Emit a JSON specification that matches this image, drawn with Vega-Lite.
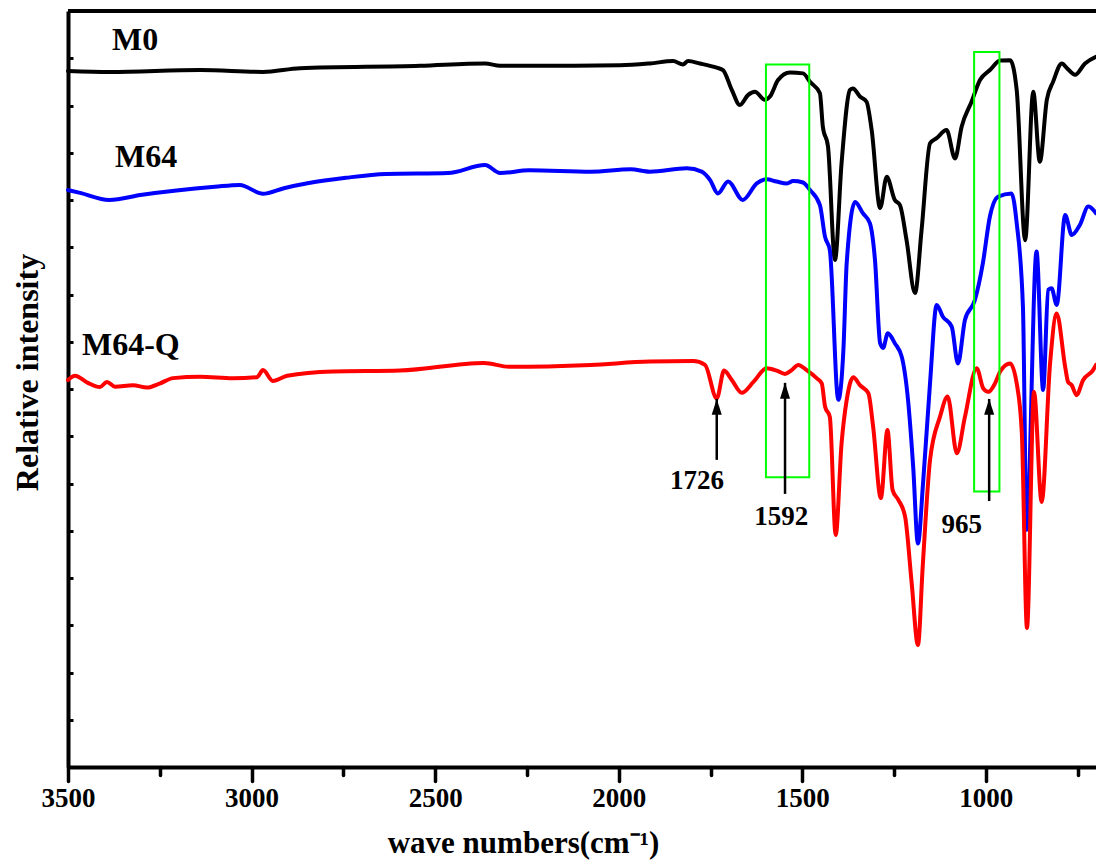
{
  "$schema": "https://vega.github.io/schema/vega-lite/v6.json",
  "width": 1028,
  "height": 756,
  "autosize": {"type": "none"},
  "padding": {"left": 68, "top": 11, "right": 0, "bottom": 96},
  "background": "white",
  "config": {"view": {"stroke": null}, "font": "Liberation Serif"},
  "datasets": {
    "spectra": [
      {"s":"M0","wn":3500,"v":14.73},{"s":"M0","wn":3386,"v":14.71},{"s":"M0","wn":3140,"v":14.75},{"s":"M0","wn":2969,"v":14.71},{"s":"M0","wn":2868,"v":14.79},{"s":"M0","wn":2541,"v":14.84},{"s":"M0","wn":2364,"v":14.89},{"s":"M0","wn":2323,"v":14.84},{"s":"M0","wn":2160,"v":14.84},{"s":"M0","wn":1996,"v":14.85},{"s":"M0","wn":1915,"v":14.89},{"s":"M0","wn":1852,"v":14.94},{"s":"M0","wn":1825,"v":14.87},{"s":"M0","wn":1811,"v":14.94},{"s":"M0","wn":1779,"v":14.89},{"s":"M0","wn":1733,"v":14.80},{"s":"M0","wn":1716,"v":14.75},{"s":"M0","wn":1692,"v":14.33},{"s":"M0","wn":1670,"v":14.01},{"s":"M0","wn":1648,"v":14.22},{"s":"M0","wn":1629,"v":14.29},{"s":"M0","wn":1602,"v":14.12},{"s":"M0","wn":1588,"v":14.19},{"s":"M0","wn":1566,"v":14.54},{"s":"M0","wn":1534,"v":14.70},{"s":"M0","wn":1498,"v":14.68},{"s":"M0","wn":1479,"v":14.50},{"s":"M0","wn":1452,"v":14.26},{"s":"M0","wn":1444,"v":13.55},{"s":"M0","wn":1430,"v":13.13},{"s":"M0","wn":1411,"v":10.73},{"s":"M0","wn":1393,"v":12.78},{"s":"M0","wn":1370,"v":14.33},{"s":"M0","wn":1362,"v":14.36},{"s":"M0","wn":1343,"v":14.19},{"s":"M0","wn":1325,"v":14.08},{"s":"M0","wn":1311,"v":13.48},{"s":"M0","wn":1288,"v":11.83},{"s":"M0","wn":1270,"v":12.49},{"s":"M0","wn":1248,"v":12.00},{"s":"M0","wn":1234,"v":11.89},{"s":"M0","wn":1216,"v":11.15},{"s":"M0","wn":1193,"v":10.03},{"s":"M0","wn":1175,"v":11.37},{"s":"M0","wn":1152,"v":13.20},{"s":"M0","wn":1134,"v":13.31},{"s":"M0","wn":1107,"v":13.48},{"s":"M0","wn":1084,"v":12.88},{"s":"M0","wn":1066,"v":13.55},{"s":"M0","wn":1039,"v":14.08},{"s":"M0","wn":1016,"v":14.54},{"s":"M0","wn":989,"v":14.75},{"s":"M0","wn":961,"v":14.95},{"s":"M0","wn":934,"v":14.96},{"s":"M0","wn":916,"v":14.33},{"s":"M0","wn":893,"v":11.15},{"s":"M0","wn":871,"v":14.29},{"s":"M0","wn":853,"v":12.81},{"s":"M0","wn":834,"v":14.12},{"s":"M0","wn":817,"v":14.50},{"s":"M0","wn":793,"v":14.89},{"s":"M0","wn":779,"v":14.79},{"s":"M0","wn":757,"v":14.65},{"s":"M0","wn":730,"v":14.89},{"s":"M0","wn":700,"v":15.03},
      {"s":"M64","wn":3500,"v":12.21},{"s":"M64","wn":3467,"v":12.15},{"s":"M64","wn":3388,"v":12.00},{"s":"M64","wn":3298,"v":12.11},{"s":"M64","wn":3100,"v":12.28},{"s":"M64","wn":3032,"v":12.32},{"s":"M64","wn":2969,"v":12.13},{"s":"M64","wn":2912,"v":12.25},{"s":"M64","wn":2844,"v":12.36},{"s":"M64","wn":2743,"v":12.47},{"s":"M64","wn":2634,"v":12.55},{"s":"M64","wn":2465,"v":12.57},{"s":"M64","wn":2364,"v":12.74},{"s":"M64","wn":2323,"v":12.57},{"s":"M64","wn":2244,"v":12.63},{"s":"M64","wn":2076,"v":12.60},{"s":"M64","wn":1967,"v":12.65},{"s":"M64","wn":1915,"v":12.60},{"s":"M64","wn":1815,"v":12.67},{"s":"M64","wn":1774,"v":12.60},{"s":"M64","wn":1751,"v":12.42},{"s":"M64","wn":1730,"v":12.14},{"s":"M64","wn":1702,"v":12.39},{"s":"M64","wn":1662,"v":12.00},{"s":"M64","wn":1624,"v":12.35},{"s":"M64","wn":1597,"v":12.44},{"s":"M64","wn":1570,"v":12.39},{"s":"M64","wn":1542,"v":12.35},{"s":"M64","wn":1525,"v":12.40},{"s":"M64","wn":1498,"v":12.37},{"s":"M64","wn":1479,"v":12.21},{"s":"M64","wn":1452,"v":11.89},{"s":"M64","wn":1438,"v":11.22},{"s":"M64","wn":1425,"v":10.94},{"s":"M64","wn":1402,"v":7.77},{"s":"M64","wn":1388,"v":8.83},{"s":"M64","wn":1379,"v":10.67},{"s":"M64","wn":1356,"v":11.96},{"s":"M64","wn":1335,"v":11.72},{"s":"M64","wn":1316,"v":11.51},{"s":"M64","wn":1302,"v":10.73},{"s":"M64","wn":1288,"v":8.97},{"s":"M64","wn":1280,"v":8.87},{"s":"M64","wn":1267,"v":9.18},{"s":"M64","wn":1248,"v":8.97},{"s":"M64","wn":1229,"v":8.68},{"s":"M64","wn":1212,"v":7.77},{"s":"M64","wn":1198,"v":6.36},{"s":"M64","wn":1185,"v":4.73},{"s":"M64","wn":1171,"v":6.01},{"s":"M64","wn":1152,"v":8.13},{"s":"M64","wn":1134,"v":9.78},{"s":"M64","wn":1117,"v":9.53},{"s":"M64","wn":1093,"v":9.32},{"s":"M64","wn":1076,"v":8.54},{"s":"M64","wn":1057,"v":9.46},{"s":"M64","wn":1030,"v":9.88},{"s":"M64","wn":1008,"v":10.67},{"s":"M64","wn":989,"v":11.65},{"s":"M64","wn":967,"v":12.07},{"s":"M64","wn":930,"v":12.14},{"s":"M64","wn":916,"v":11.51},{"s":"M64","wn":899,"v":9.74},{"s":"M64","wn":889,"v":5.02},{"s":"M64","wn":862,"v":10.91},{"s":"M64","wn":844,"v":7.98},{"s":"M64","wn":830,"v":10.10},{"s":"M64","wn":821,"v":10.13},{"s":"M64","wn":807,"v":9.78},{"s":"M64","wn":784,"v":11.68},{"s":"M64","wn":766,"v":11.26},{"s":"M64","wn":744,"v":11.47},{"s":"M64","wn":721,"v":11.86},{"s":"M64","wn":700,"v":11.72},
      {"s":"M64-Q","wn":3500,"v":8.19},{"s":"M64-Q","wn":3481,"v":8.28},{"s":"M64-Q","wn":3446,"v":8.13},{"s":"M64-Q","wn":3413,"v":8.04},{"s":"M64-Q","wn":3394,"v":8.15},{"s":"M64-Q","wn":3372,"v":8.05},{"s":"M64-Q","wn":3323,"v":8.08},{"s":"M64-Q","wn":3285,"v":8.03},{"s":"M64-Q","wn":3249,"v":8.12},{"s":"M64-Q","wn":3214,"v":8.23},{"s":"M64-Q","wn":3140,"v":8.26},{"s":"M64-Q","wn":3051,"v":8.23},{"s":"M64-Q","wn":2985,"v":8.25},{"s":"M64-Q","wn":2969,"v":8.40},{"s":"M64-Q","wn":2942,"v":8.17},{"s":"M64-Q","wn":2903,"v":8.28},{"s":"M64-Q","wn":2778,"v":8.37},{"s":"M64-Q","wn":2596,"v":8.39},{"s":"M64-Q","wn":2367,"v":8.55},{"s":"M64-Q","wn":2299,"v":8.47},{"s":"M64-Q","wn":2076,"v":8.51},{"s":"M64-Q","wn":1915,"v":8.58},{"s":"M64-Q","wn":1797,"v":8.59},{"s":"M64-Q","wn":1765,"v":8.51},{"s":"M64-Q","wn":1733,"v":7.80},{"s":"M64-Q","wn":1713,"v":8.39},{"s":"M64-Q","wn":1692,"v":8.19},{"s":"M64-Q","wn":1665,"v":7.92},{"s":"M64-Q","wn":1633,"v":8.15},{"s":"M64-Q","wn":1597,"v":8.44},{"s":"M64-Q","wn":1570,"v":8.39},{"s":"M64-Q","wn":1547,"v":8.32},{"s":"M64-Q","wn":1529,"v":8.40},{"s":"M64-Q","wn":1511,"v":8.51},{"s":"M64-Q","wn":1488,"v":8.40},{"s":"M64-Q","wn":1461,"v":8.23},{"s":"M64-Q","wn":1447,"v":8.12},{"s":"M64-Q","wn":1438,"v":7.63},{"s":"M64-Q","wn":1425,"v":7.41},{"s":"M64-Q","wn":1409,"v":4.91},{"s":"M64-Q","wn":1393,"v":6.85},{"s":"M64-Q","wn":1379,"v":7.77},{"s":"M64-Q","wn":1361,"v":8.25},{"s":"M64-Q","wn":1343,"v":8.08},{"s":"M64-Q","wn":1320,"v":7.91},{"s":"M64-Q","wn":1307,"v":7.20},{"s":"M64-Q","wn":1286,"v":5.69},{"s":"M64-Q","wn":1268,"v":7.13},{"s":"M64-Q","wn":1254,"v":5.86},{"s":"M64-Q","wn":1238,"v":5.65},{"s":"M64-Q","wn":1220,"v":5.30},{"s":"M64-Q","wn":1202,"v":3.89},{"s":"M64-Q","wn":1185,"v":2.58},{"s":"M64-Q","wn":1172,"v":4.24},{"s":"M64-Q","wn":1152,"v":6.50},{"s":"M64-Q","wn":1125,"v":7.41},{"s":"M64-Q","wn":1104,"v":7.84},{"s":"M64-Q","wn":1079,"v":6.64},{"s":"M64-Q","wn":1057,"v":7.41},{"s":"M64-Q","wn":1025,"v":8.44},{"s":"M64-Q","wn":1007,"v":8.01},{"s":"M64-Q","wn":993,"v":7.94},{"s":"M64-Q","wn":975,"v":8.12},{"s":"M64-Q","wn":961,"v":8.37},{"s":"M64-Q","wn":934,"v":8.54},{"s":"M64-Q","wn":916,"v":8.12},{"s":"M64-Q","wn":902,"v":7.06},{"s":"M64-Q","wn":888,"v":2.94},{"s":"M64-Q","wn":869,"v":7.94},{"s":"M64-Q","wn":848,"v":5.61},{"s":"M64-Q","wn":825,"v":8.55},{"s":"M64-Q","wn":807,"v":9.60},{"s":"M64-Q","wn":784,"v":8.47},{"s":"M64-Q","wn":776,"v":8.15},{"s":"M64-Q","wn":766,"v":8.08},{"s":"M64-Q","wn":753,"v":7.87},{"s":"M64-Q","wn":735,"v":8.19},{"s":"M64-Q","wn":708,"v":8.40},{"s":"M64-Q","wn":700,"v":8.51}
    ],
    "boxes": [
      {"wn":1599,"wn2":1481,"v":14.87,"v2":6.13},
      {"wn":1032,"wn2":963,"v":15.13,"v2":5.83}
    ],
    "arrows": [
      {"label":"1726","wn":1733,"v":6.50,"v2":7.79,"lwn":1787,"lv":5.88},
      {"label":"1592","wn":1547,"v":5.78,"v2":8.13,"lwn":1557,"lv":5.12},
      {"label":"965","wn":991,"v":5.63,"v2":7.79,"lwn":1066,"lv":4.96}
    ],
    "names": [
      {"name":"M0","wn":3380,"v":15.17},
      {"name":"M64","wn":3372,"v":12.70},
      {"name":"M64-Q","wn":3462,"v":8.72}
    ]
  },
  "layer": [
    {
      "data": {"name": "spectra"},
      "mark": {"type": "line", "strokeWidth": 4, "interpolate": "monotone", "strokeJoin": "round", "strokeCap": "round"},
      "encoding": {
        "x": {
          "field": "wn", "type": "quantitative",
          "scale": {"domain": [700, 3500], "reverse": true, "nice": false, "zero": false},
          "axis": {
            "title": "wave numbers(cm⁻¹)",
            "values": [3500, 3250, 3000, 2750, 2500, 2250, 2000, 1750, 1500, 1250, 1000, 750],
            "format": "d",
            "labelExpr": "datum.value % 500 === 0 ? datum.label : ''",
            "tickSize": {"condition": {"test": "datum.value % 500 === 0", "value": 14}, "value": 8},
            "tickWidth": 3.5, "tickColor": "black", "tickCap": "round",
            "domainColor": "black", "domainWidth": 4,
            "grid": false, "labelOverlap": false, "labelFlush": false,
            "labelFont": "Liberation Serif", "labelFontSize": 27, "labelFontWeight": "bold", "labelColor": "black", "labelPadding": 4,
            "titleFont": "Liberation Serif", "titleFontSize": 31, "titleFontWeight": "bold", "titleColor": "black",
            "titleX": 455, "titleY": 85, "titleAlign": "center", "titleBaseline": "alphabetic", "titleAnchor": null
          }
        },
        "y": {
          "field": "v", "type": "quantitative",
          "scale": {"domain": [0, 16], "nice": false, "zero": false},
          "axis": {
            "title": "Relative intensity",
            "values": [0,1,2,3,4,5,6,7,8,9,10,11,12,13,14,15,16],
            "labels": false, "ticks": true, "tickSize": -5, "tickWidth": 3, "tickColor": "black",
            "domainColor": "black", "domainWidth": 4, "grid": false,
            "titleFont": "Liberation Serif", "titleFontSize": 32, "titleFontWeight": "bold", "titleColor": "black",
            "titleAngle": -90, "titleX": -31, "titleY": 361, "titleAlign": "center", "titleBaseline": "alphabetic"
          }
        },
        "color": {"field": "s", "type": "nominal", "scale": {"domain": ["M0", "M64", "M64-Q"], "range": ["#000000", "#0000ff", "#ff0000"]}, "legend": null},
        "detail": {"field": "s"}
      }
    },
    {
      "data": {"name": "boxes"},
      "mark": {"type": "rect", "filled": false, "stroke": "#00ff00", "strokeWidth": 2},
      "encoding": {
        "x": {"field": "wn", "type": "quantitative"},
        "x2": {"field": "wn2"},
        "y": {"field": "v", "type": "quantitative"},
        "y2": {"field": "v2"}
      }
    },
    {
      "data": {"name": "arrows"},
      "mark": {"type": "rule", "color": "black", "strokeWidth": 2.5},
      "encoding": {
        "x": {"field": "wn", "type": "quantitative"},
        "y": {"field": "v", "type": "quantitative"},
        "y2": {"field": "v2"}
      }
    },
    {
      "data": {"name": "arrows"},
      "mark": {"type": "point", "shape": "M-1.2,3.8L0,0L1.2,3.8Z", "filled": true, "color": "black", "size": 70, "opacity": 1, "strokeWidth": 0},
      "encoding": {
        "x": {"field": "wn", "type": "quantitative"},
        "y": {"field": "v2", "type": "quantitative"}
      }
    },
    {
      "data": {"name": "arrows"},
      "mark": {"type": "text", "font": "Liberation Serif", "fontSize": 27, "fontWeight": "bold", "color": "black", "align": "center", "baseline": "alphabetic"},
      "encoding": {
        "x": {"field": "lwn", "type": "quantitative"},
        "y": {"field": "lv", "type": "quantitative"},
        "text": {"field": "label"}
      }
    },
    {
      "data": {"name": "names"},
      "mark": {"type": "text", "font": "Liberation Serif", "fontSize": 32, "fontWeight": "bold", "color": "black", "align": "left", "baseline": "alphabetic"},
      "encoding": {
        "x": {"field": "wn", "type": "quantitative"},
        "y": {"field": "v", "type": "quantitative"},
        "text": {"field": "name"}
      }
    },
    {
      "data": {"values": [{}]},
      "mark": {"type": "rule", "color": "black", "strokeWidth": 4},
      "encoding": {"y": {"datum": 16}}
    }
  ]
}
